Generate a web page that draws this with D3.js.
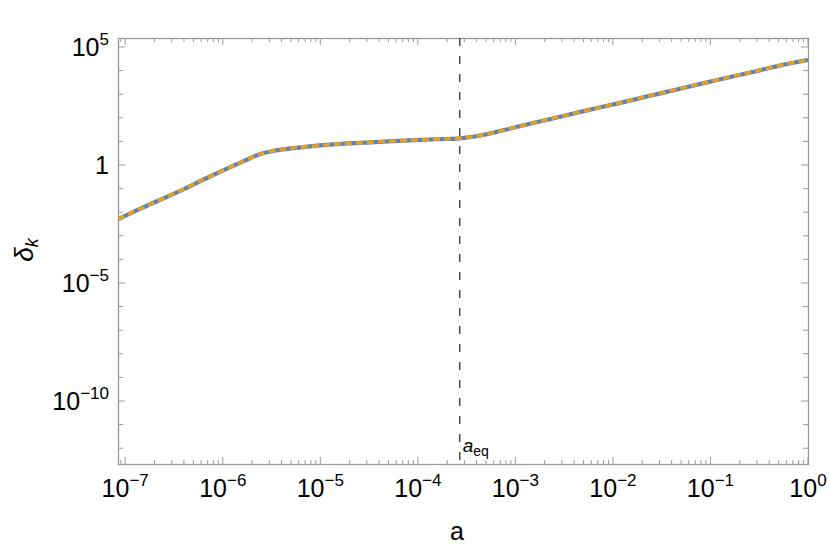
<!DOCTYPE html>
<html>
<head>
<meta charset="utf-8">
<script src="https://cdn.jsdelivr.net/npm/d3@7"></script>
<style>
  body { margin: 0; background: #fff; }
  svg text { font-family: "Liberation Sans", Arial, sans-serif; fill: #000; }
</style>
</head>
<body>
<div id="chart"></div>
<script>
// values
var scaleFactor = [8.43e-8, 1.51e-7, 3.39e-7, 7.41e-7, 1.62e-6, 2.40e-6, 3.55e-6, 4.90e-6,
  6.61e-6, 1.48e-5, 3.24e-5, 7.08e-5, 1.55e-4, 2.69e-4, 4.68e-4, 1.05e-3, 2.24e-3,
  4.90e-3, 1.10e-2, 2.40e-2, 5.25e-2, 0.117, 0.257, 0.550, 0.832, 1]
var deltaNumeric = [5.01e-3, 1.55e-2, 6.92e-2, 0.324, 1.41, 2.88, 4.17, 5.01,
  5.75, 7.59, 9.12, 10.7, 12.3, 13.5, 18.6, 41.7, 87.1,
  186, 398, 851, 1820, 3980, 8320, 17400, 24500, 28200]
var deltaAnalytic = deltaNumeric.slice() // the two curves sit on top of each other
var aEq = 2.69e-4

var xTickExp = [-7, -6, -5, -4, -3, -2, -1, 0]
var yTickExp = [5, 0, -5, -10]

var width = 830
var height = 549
var margin = { top: 38, right: 22, bottom: 85, left: 118 }

var x = d3.scaleLog()
  .domain([Math.pow(10, -7.074), 1])
  .range([margin.left, width - margin.right])

var y = d3.scaleLog()
  .domain([Math.pow(10, -12.67), Math.pow(10, 5.38)])
  .range([height - margin.bottom, margin.top])

var svg = d3.select('#chart').append('svg')
  .attr('width', width)
  .attr('height', height)

svg.append('clipPath').attr('id', 'clip')
  .append('rect')
  .attr('x', margin.left).attr('y', margin.top)
  .attr('width', width - margin.left - margin.right)
  .attr('height', height - margin.top - margin.bottom)

// tick positions
var xMajor = xTickExp.map(e => Math.pow(10, e))
var xMinor = []
xTickExp.forEach(e => {
  for (var m = 2; m <= 9; m++) xMinor.push(m * Math.pow(10, e))
})
xMinor.push(9e-8)
xMinor = xMinor.filter(v => v >= x.domain()[0] && v <= 1)

var yDecades = d3.range(-12, 6).map(e => Math.pow(10, e))

var x0 = margin.left, x1 = width - margin.right
var y0 = height - margin.bottom, y1 = margin.top
var frameColor = '#9a9a9a'

var ticks = svg.append('g').attr('stroke', frameColor).attr('stroke-width', 1)

// bottom + top ticks
xMajor.forEach(v => {
  var px = x(v)
  ticks.append('line').attr('x1', px).attr('x2', px).attr('y1', y0).attr('y2', y0 - 7)
  ticks.append('line').attr('x1', px).attr('x2', px).attr('y1', y1).attr('y2', y1 + 7)
})
xMinor.forEach(v => {
  var px = x(v)
  ticks.append('line').attr('x1', px).attr('x2', px).attr('y1', y0).attr('y2', y0 - 4)
  ticks.append('line').attr('x1', px).attr('x2', px).attr('y1', y1).attr('y2', y1 + 4)
})
// left + right ticks
yDecades.forEach(v => {
  var py = y(v)
  var len = yTickExp.includes(Math.round(Math.log10(v))) ? 7 : 5
  ticks.append('line').attr('x1', x0).attr('x2', x0 + len).attr('y1', py).attr('y2', py)
  ticks.append('line').attr('x1', x1).attr('x2', x1 - len).attr('y1', py).attr('y2', py)
})

// frame
svg.append('rect')
  .attr('x', x0 + 0.5).attr('y', y1 + 0.5)
  .attr('width', x1 - x0).attr('height', y0 - y1)
  .attr('fill', 'none')
  .attr('stroke', frameColor)
  .attr('stroke-width', 1.3)

// tick labels
const powerLabel = (sel, e) => {
  if (e === 0 && sel.attr('data-axis') === 'y') {
    sel.append('tspan').text('1')
    return
  }
  sel.append('tspan').text('10')
  sel.append('tspan')
    .attr('dy', -11)
    .style('font-size', '17px')
    .text(e < 0 ? '\u2212' + (-e) : String(e))
}

xTickExp.forEach(e => {
  var t = svg.append('text')
    .attr('data-axis', 'x')
    .attr('x', x(Math.pow(10, e)))
    .attr('y', 497)
    .attr('text-anchor', 'middle')
    .style('font-size', '25px')
  powerLabel(t, e)
})

yTickExp.forEach(e => {
  var t = svg.append('text')
    .attr('data-axis', 'y')
    .attr('x', 109)
    .attr('y', y(Math.pow(10, e)) + 9)
    .attr('text-anchor', 'end')
    .style('font-size', '25px')
  powerLabel(t, e)
})

// axis labels
svg.append('text')
  .attr('x', 457)
  .attr('y', 540)
  .attr('text-anchor', 'middle')
  .style('font-size', '25px')
  .text('a')

var yLab = svg.append('text')
  .attr('transform', 'translate(33,250) rotate(-90)')
  .attr('text-anchor', 'middle')
  .style('font-size', '26px')
yLab.append('tspan').style('font-style', 'italic').text('\u03b4')
yLab.append('tspan').attr('dy', 5).style('font-size', '18px').style('font-style', 'italic').text('k')

// a_eq marker
svg.append('line')
  .attr('x1', x(aEq)).attr('x2', x(aEq))
  .attr('y1', y1).attr('y2', y0)
  .attr('stroke', '#333')
  .attr('stroke-width', 1.3)
  .attr('stroke-dasharray', '8,10')

var eqLab = svg.append('text')
  .attr('x', x(aEq) + 3)
  .attr('y', 452)
  .style('font-size', '19px')
eqLab.append('tspan').style('font-style', 'italic').text('a')
eqLab.append('tspan').attr('dy', 4).style('font-size', '14px').text('eq')

// curves
var points = d => scaleFactor.map((a, i) => [a, d[i]])

var line = d3.line()
  .x(d => x(d[0]))
  .y(d => y(d[1]))
  .curve(d3.curveCatmullRom.alpha(0.5))

var plot = svg.append('g').attr('clip-path', 'url(#clip)')

plot.append('path')
  .attr('d', line(points(deltaNumeric)))
  .attr('fill', 'none')
  .attr('stroke', '#5E81B5')
  .attr('stroke-width', 4.2)

plot.append('path')
  .attr('d', line(points(deltaAnalytic)))
  .attr('fill', 'none')
  .attr('stroke', '#E8A020')
  .attr('stroke-width', 3.4)
  .attr('stroke-dasharray', '7,4')
</script>
</body>
</html>
